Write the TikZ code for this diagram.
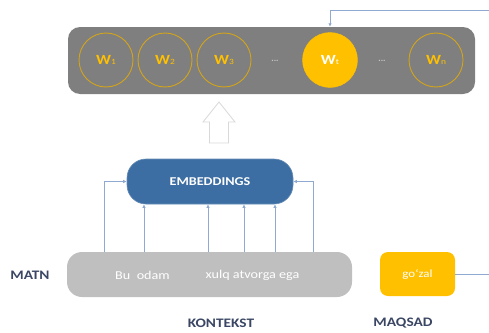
\documentclass[tikz,border=0pt]{standalone}
\usepackage{fontspec}
\setmainfont{Carlito}
\usetikzlibrary{arrows.meta,calc}
\definecolor{seqgray}{HTML}{7F7F7F}
\definecolor{ringc}{HTML}{D2A41C}
\definecolor{wyel}{HTML}{FFC000}
\definecolor{embblue}{HTML}{3D6EA3}
\definecolor{ctxgray}{HTML}{BFBFBF}
\definecolor{connc}{HTML}{8FA9D0}
\definecolor{labc}{HTML}{3A4663}
\definecolor{dotc}{HTML}{C8C8C8}
\definecolor{holc}{HTML}{D9D9D9}
\newcommand\stre[1]{\scalebox{1.18}[1]{#1}}
\newcommand\wlab[1]{\stre{{\fontsize{14}{14}\selectfont\bfseries W}{\fontsize{8}{8}\selectfont #1}}}
\tikzset{
  seqbox/.style={fill=seqgray, rounded corners=12pt, minimum width=407pt, minimum height=67pt, inner sep=0pt},
  ring/.style={circle, draw=ringc, line width=0.9pt, minimum size=54pt, inner sep=0pt, text=wyel},
  ringfull/.style={circle, fill=wyel, draw=wyel, minimum size=55pt, inner sep=0pt, text=white},
  dotlab/.style={text=dotc, font=\fontsize{9}{9}\selectfont\bfseries},
  embbox/.style={fill=embblue, draw=embblue!80!white, line width=0.6pt, rounded corners=19pt, minimum width=166pt, minimum height=45pt, inner sep=0pt, text=white, font=\fontsize{12}{12}\selectfont\bfseries},
  ctxbox/.style={fill=ctxgray, rounded corners=15pt, minimum width=285pt, minimum height=45pt, inner sep=0pt},
  ctxtext/.style={text=white, font=\fontsize{12}{12}\selectfont, inner sep=0pt},
  gozbox/.style={fill=wyel, rounded corners=8pt, minimum width=75pt, minimum height=44pt, inner sep=0pt, text=white, font=\fontsize{11}{11}\selectfont},
  lab/.style={text=labc, font=\fontsize{13}{13}\selectfont\bfseries, inner sep=0pt},
  conn/.style={draw=connc, line width=0.7pt, -{Latex[length=3.5pt,width=3.5pt]}},
  plainconn/.style={draw=connc, line width=0.7pt},
  hollow/.style={draw=holc, fill=white, line width=0.8pt, line join=miter}
}
\begin{document}
\begin{tikzpicture}[x=1pt,y=-1pt]
\useasboundingbox (0,0) rectangle (489,332);
% top sequence
\node[seqbox] (seq) at (271.5,60.5) {};
\node[ring] (w1) at (106,60) {\wlab{1}};
\node[ring] (w2) at (165,60) {\wlab{2}};
\node[ring] (w3) at (224,60) {\wlab{3}};
\node[dotlab] (d1) at (275,61) {...};
\node[ringfull] (wt) at (330,60) {\wlab{t}};
\node[dotlab] (d2) at (382,61) {...};
\node[ring] (wn) at (436,60) {\wlab{n}};
% incoming connector at top
\coordinate (topin) at (489,10);
\coordinate (wtop) at (seq.north -| wt);
\draw[conn] (topin) -| (wtop);
% hollow block arrow
\coordinate (ha) at (219,102);
\draw[hollow] (ha) -- (235,122) -- (228.5,122) -- (228.5,143) -- (209.5,143) -- (209.5,122) -- (203,122) -- cycle;
% embeddings
\node[embbox] (emb) at (210,181.5) {\stre{EMBEDDINGS}};
% context
\node[ctxbox] (ctx) at (209.5,274.5) {};
\node[ctxtext] (t1) at (142.5,275) {\stre{Bu\ \ odam}};
\node[ctxtext] (t2) at (252.5,275) {\stre{xulq atvorga ega}};
% connectors context -> embeddings
\coordinate (xl) at (104,0);
\coordinate (x1) at (144,0);
\coordinate (x2) at (208,0);
\coordinate (x3) at (244,0);
\coordinate (x4) at (275,0);
\coordinate (xr) at (313,0);
\draw[conn] (ctx.north -| xl) |- (emb.west);
\draw[conn] (ctx.north -| x1) -- (emb.south -| x1);
\draw[conn] (ctx.north -| x2) -- (emb.south -| x2);
\draw[conn] (ctx.north -| x3) -- (emb.south -| x3);
\draw[conn] (ctx.north -| x4) -- (emb.south -| x4);
\draw[conn] (ctx.north -| xr) |- (emb.east);
% target
\node[gozbox] (goz) at (417.5,274) {\stre{go`zal}};
\coordinate (gozout) at (489,274);
\draw[plainconn] (goz.east) -- (gozout);
% labels
\node[lab] (matn) at (30,275) {\stre{MATN}};
\node[lab] (kont) at (221,323) {\stre{KONTEKST}};
\node[lab] (maq) at (403,323) {\stre{MAQSAD}};
\end{tikzpicture}
\end{document}
